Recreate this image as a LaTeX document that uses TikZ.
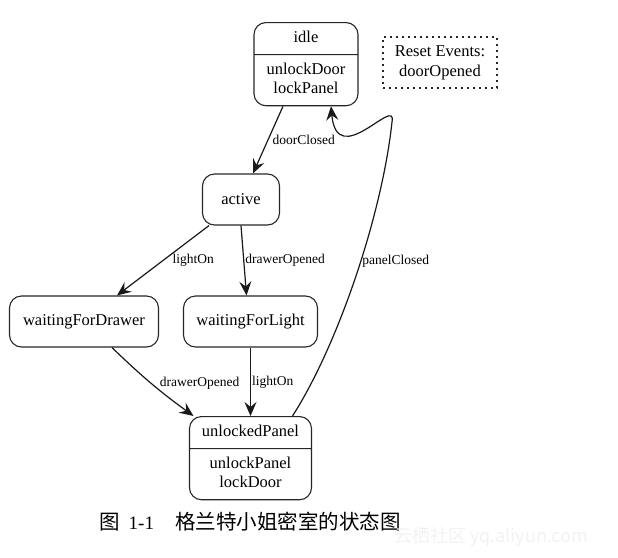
\documentclass[tikz,border=0pt]{standalone}
\usepackage{fontspec}
\setmainfont{Liberation Serif}
\newfontfamily\cjk{Noto Sans CJK SC}
\usetikzlibrary{arrows.meta,shapes.multipart,positioning}

\tikzset{
  state/.style={draw=black!85,line width=1.1pt,rounded corners=12pt,minimum height=51pt,
    font=\fontsize{16.5}{19}\selectfont},
  splitstate/.style={state,rectangle split,rectangle split parts=2,align=center,
    inner xsep=8pt,inner ysep=6pt,minimum height=0pt},
  trans/.style={-{Stealth[length=14pt,width=12pt,inset=5pt]},line width=1.2pt,draw=black!90},
  evlabel/.style={font=\fontsize{13.5}{16}\selectfont,inner sep=1pt}
}

\begin{document}
\begin{tikzpicture}[x=1pt,y=-1pt]
\useasboundingbox (0,0) rectangle (618,557);

% States
\node[splitstate,text width=88pt,anchor=north] (idle) at (306,22)
  {\strut idle\nodepart{two}\strut unlockDoor\\lockPanel\strut};
\node[draw=black!85,line width=1.1pt,dash pattern=on 1.6pt off 4.4pt,minimum width=114pt,minimum height=51pt,
  align=center,font=\fontsize{16.5}{20}\selectfont] (reset) at (440,62.5) {Reset Events:\\doorOpened};
\node[state,minimum width=77pt] (active) at (241,199.5) {active};
\node[state,minimum width=149pt] (wfd) at (84,321.5) {waitingForDrawer};
\node[state,minimum width=134pt] (wfl) at (250.5,321.5) {waitingForLight};
\node[splitstate,text width=106pt,anchor=north] (unlocked) at (250.5,416)
  {\strut unlockedPanel\nodepart{two}\strut unlockPanel\\lockDoor\strut};

% Transitions
\draw[trans] ([xshift=-23pt]idle.south) -- node[evlabel,right=3pt] {doorClosed} ([xshift=12pt]active.north);
\draw[trans] ([xshift=-32pt]active.south) -- node[evlabel,right=8pt] {lightOn} ([xshift=33pt]wfd.north);
\draw[trans] (active.south) -- node[evlabel,right] {drawerOpened} ([xshift=-4pt]wfl.north);
\draw[trans] ([xshift=28pt]wfd.south) to[bend right=4] node[evlabel,right=7pt] {drawerOpened} ([xshift=-57pt]unlocked.north);
\draw[trans] (wfl.south) -- node[evlabel,right] {lightOn} (unlocked.north);
\coordinate (pcturn) at (392,122);
\draw[trans] ([xshift=42pt]unlocked.north) .. controls (338,345) and (382,215) .. node[evlabel,pos=.55,right] {panelClosed} (pcturn)
  .. controls (397,94) and (337,172) .. ([xshift=25pt]idle.south);

% Caption
\node[anchor=west,inner sep=0pt] (caption) at (99,522)
  {{\cjk\fontsize{20.5}{22}\selectfont 图}\hspace{9pt}{\fontsize{19}{22}\selectfont 1-1}\hspace{21pt}{\cjk\fontsize{20.5}{22}\selectfont 格兰特小姐密室的状态图}};
\node[anchor=west,inner sep=0pt,text=gray!10,font=\cjk\fontsize{18}{20}\selectfont] (mark) at (394,537) {云栖社区 yq.aliyun.com};
\end{tikzpicture}
\end{document}
